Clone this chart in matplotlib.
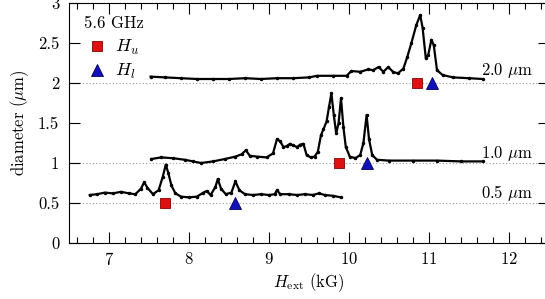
import matplotlib
matplotlib.use("Agg")
import matplotlib.pyplot as plt
from matplotlib.ticker import MultipleLocator

plt.rcParams['font.family'] = 'serif'
plt.rcParams['font.serif'] = ['cmr10', 'DejaVu Serif']
plt.rcParams['mathtext.fontset'] = 'cm'
plt.rcParams['axes.formatter.use_mathtext'] = True

# --- data ---
x_05 = [6.76, 6.85, 6.95, 7.05, 7.15, 7.25, 7.33, 7.40, 7.44, 7.48, 7.55, 7.62, 7.67, 7.71, 7.74,
        7.78, 7.83, 7.90, 8.00, 8.10, 8.18, 8.22, 8.27, 8.33, 8.36, 8.40, 8.46, 8.53, 8.58, 8.63,
        8.70, 8.80, 8.90, 9.00, 9.07, 9.10, 9.14, 9.25, 9.35, 9.45, 9.55, 9.62, 9.70, 9.80, 9.90]
y_05 = [0.60, 0.61, 0.63, 0.62, 0.64, 0.62, 0.61, 0.68, 0.76, 0.69, 0.61, 0.66, 0.82, 0.98, 0.88,
        0.72, 0.62, 0.58, 0.57, 0.58, 0.63, 0.65, 0.60, 0.70, 0.80, 0.68, 0.61, 0.63, 0.77, 0.66,
        0.61, 0.60, 0.61, 0.60, 0.61, 0.66, 0.61, 0.61, 0.60, 0.61, 0.60, 0.62, 0.60, 0.59, 0.57]

x_10 = [7.53, 7.65, 7.8, 7.95, 8.05, 8.15, 8.3, 8.45, 8.58, 8.66, 8.71, 8.76, 8.85, 8.97, 9.05,
        9.1, 9.14, 9.18, 9.22, 9.26, 9.3, 9.35, 9.39, 9.43, 9.47, 9.52, 9.57, 9.61, 9.65, 9.68,
        9.72, 9.75, 9.78, 9.81, 9.84, 9.87, 9.9, 9.93, 9.96, 10.01, 10.08, 10.14, 10.18, 10.22,
        10.25, 10.29, 10.35, 10.5, 10.8, 11.1, 11.4, 11.67]
y_10 = [1.05, 1.07, 1.06, 1.04, 1.02, 1.0, 1.02, 1.05, 1.08, 1.11, 1.16, 1.09, 1.08, 1.07, 1.12,
        1.3, 1.27, 1.2, 1.21, 1.24, 1.22, 1.2, 1.23, 1.24, 1.1, 1.07, 1.08, 1.14, 1.35, 1.42,
        1.52, 1.7, 1.87, 1.6, 1.37, 1.5, 1.81, 1.45, 1.2, 1.08, 1.06, 1.1, 1.25, 1.6,
        1.3, 1.1, 1.04, 1.03, 1.03, 1.03, 1.02, 1.02]

x_20 = [7.52, 7.7, 7.9, 8.1, 8.3, 8.5, 8.7, 8.9, 9.1, 9.3, 9.5, 9.6, 9.8, 9.97, 10.03, 10.14,
        10.24, 10.3, 10.37, 10.43, 10.49, 10.55, 10.61, 10.68, 10.73, 10.78, 10.84, 10.89, 10.92,
        10.96, 10.99, 11.03, 11.06, 11.1, 11.17, 11.3, 11.5, 11.67]
y_20 = [2.08, 2.07, 2.06, 2.05, 2.05, 2.05, 2.06, 2.05, 2.06, 2.06, 2.07, 2.09, 2.09, 2.09, 2.15, 2.14,
        2.17, 2.16, 2.2, 2.14, 2.2, 2.14, 2.12, 2.18, 2.33, 2.5, 2.72, 2.85, 2.69,
        2.31, 2.35, 2.54, 2.47, 2.16, 2.1, 2.07, 2.06, 2.05]

diameters = [0.5, 1.0, 2.0]
diam_labels = [r'$0.5\ \mu$m', r'$1.0\ \mu$m', r'$2.0\ \mu$m']
Hu = [7.70, 9.88, 10.85]
Hl = [8.58, 10.23, 11.04]

fig = plt.figure(figsize=(5.45, 2.99), dpi=100)
ax = fig.add_axes([69/545, 56/299, 480/545, 240/299])

for d in diameters:
    ax.axhline(d, color='#9a9a9a', lw=0.8, ls=(0, (1, 2)), zorder=1)

for xs, ys in [(x_05, y_05), (x_10, y_10), (x_20, y_20)]:
    ax.plot(xs, ys, color='black', lw=1.6, marker='.', ms=3, zorder=2)

ax.plot(Hu, diameters, ls='none', marker='s', ms=6.5, mfc='#dd1111', mec='#880000', mew=0.6, zorder=3)
ax.plot(Hl, diameters, ls='none', marker='^', ms=8, mfc='#1111bb', mec='#000055', mew=0.6, zorder=3)

for d, lab, ty in zip(diameters, diam_labels, [0.62, 1.12, 2.15]):
    ax.text(12.3, ty, lab, ha='right', va='center', fontsize=12)

# legend-like annotations
ax.text(6.69, 2.75, '5.6 GHz', ha='left', va='center', fontsize=12)
ax.plot([6.85], [2.46], ls='none', marker='s', ms=6.5, mfc='#dd1111', mec='#880000', mew=0.6)
ax.plot([6.85], [2.16], ls='none', marker='^', ms=8, mfc='#1111bb', mec='#000055', mew=0.6)
ax.text(7.08, 2.44, r'$H_u$', ha='left', va='center', fontsize=13)
ax.text(7.08, 2.14, r'$H_l$', ha='left', va='center', fontsize=13)

ax.set_xlim(6.5, 12.5)
ax.set_ylim(0, 3)
ax.xaxis.set_major_locator(MultipleLocator(1))
ax.xaxis.set_minor_locator(MultipleLocator(0.2))
ax.yaxis.set_major_locator(MultipleLocator(0.5))
ax.tick_params(which='both', direction='in', top=True, right=True, labelsize=12)
ax.tick_params(which='major', length=8, width=0.8)
ax.tick_params(which='minor', length=4, width=0.8)
ax.tick_params(axis='y', pad=7)
ax.tick_params(axis='x', pad=6)
ax.set_yticks([0, 0.5, 1, 1.5, 2, 2.5, 3])
ax.set_yticklabels(['0', '0.5', '1', '1.5', '2', '2.5', '3'])
for s in ax.spines.values():
    s.set_linewidth(0.8)

ax.set_xlabel(r'$H_{\rm ext}$ (kG)', fontsize=12, labelpad=2)
ax.set_ylabel(r'diameter ($\mu$m)', fontsize=12, labelpad=5)

fig.savefig('out.png', dpi=100)
